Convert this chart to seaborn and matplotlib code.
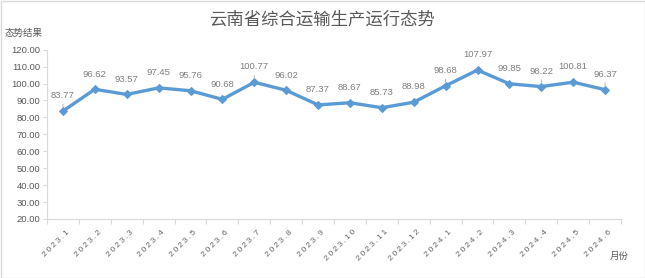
import matplotlib
matplotlib.use("Agg")
import matplotlib.pyplot as plt
import matplotlib.transforms as mtrans
import seaborn as sns
import pandas as pd
import numpy as np
from matplotlib.patches import Rectangle

months = ["2023.1", "2023.2", "2023.3", "2023.4", "2023.5", "2023.6", "2023.7", "2023.8",
          "2023.9", "2023.10", "2023.11", "2023.12", "2024.1", "2024.2", "2024.3", "2024.4",
          "2024.5", "2024.6"]
values = [83.77, 96.62, 93.57, 97.45, 95.76, 90.68, 100.77, 96.02, 87.37, 88.67, 85.73,
          88.98, 98.68, 107.97, 99.85, 98.22, 100.81, 96.37]
leader_idx = [0, 6, 12, 15, 17]
yticks = [20, 30, 40, 50, 60, 70, 80, 90, 100, 110, 120]

title = "云南省综合运输生产运行态势"
ylabel = "态势结果"
xlabel = "月份"

sns.set_style("white")
plt.rcParams['font.family'] = ['Noto Sans CJK SC', 'DejaVu Sans']

df = pd.DataFrame({"month": months, "value": values})

fig = plt.figure(figsize=(6.45, 2.78), dpi=100)
ax = fig.add_axes([47/645, 1-219/278, (621-47)/645, (219-49.7)/278])

sns.lineplot(data=df, x="month", y="value", ax=ax, color="#5B9BD5", linewidth=2.4,
             marker="D", markersize=4.5, markeredgecolor="#5B9BD5", sort=False)

ax.set_xlim(-0.5, len(months) - 0.5)
ax.set_ylim(20, 120)

txtc = "#595959"
num_font = ["Liberation Sans", "DejaVu Sans"]

# x ticks: marks at boundaries, labels at centers
ax.set_xticks(np.arange(-0.5, len(months), 1.0))
ax.set_xticklabels([])
ax.set_xticks(np.arange(len(months)), minor=True)
spaced = ["\u2009".join(m) for m in months]
ax.set_xticklabels(spaced, minor=True, rotation=45, ha="right", va="top",
                   rotation_mode="anchor", fontsize=6.1, color="#666666", family=num_font)
ax.tick_params(axis="x", which="major", length=3.5, width=0.8, color="#D9D9D9", direction="out", bottom=True)
ax.tick_params(axis="x", which="minor", length=0, pad=7, bottom=True)
shift = mtrans.ScaledTranslation(3/100, 0, fig.dpi_scale_trans)
for lab in ax.get_xticklabels(minor=True):
    lab.set_transform(lab.get_transform() + shift)

ax.set_yticks(yticks)
ax.set_yticklabels([f"{v:.2f}" for v in yticks], fontsize=6.8, color=txtc, family=num_font)
ax.tick_params(axis="y", length=3, width=0.8, color="#D9D9D9", direction="out", left=True, pad=2)

ax.set_xlabel("")
ax.set_ylabel("")
for s in ["top", "right"]:
    ax.spines[s].set_visible(False)
ax.spines["left"].set_color("#D9D9D9")
ax.spines["bottom"].set_color("#D9D9D9")
ax.spines["left"].set_linewidth(0.8)
ax.spines["bottom"].set_linewidth(0.8)
ax.grid(False)

for i, v in enumerate(values):
    if i in leader_idx:
        ax.annotate(f"{v:.2f}", xy=(i, v), xytext=(0, 11), textcoords="offset points",
                    ha="center", va="center", fontsize=6.8, color="#7F7F7F",
                    family=num_font,
                    arrowprops=dict(arrowstyle="-", color="#A6A6A6", lw=0.6, shrinkA=0.5, shrinkB=3))
    else:
        ax.annotate(f"{v:.2f}", xy=(i, v), xytext=(0, 11), textcoords="offset points",
                    ha="center", va="center", fontsize=6.8, color="#7F7F7F", family=num_font)

fig.text(321.5/645, 1-20/278, title, ha="center", va="center", fontsize=12.5, color=txtc)
fig.text(5/645, 1-33/278, ylabel, ha="left", va="center", fontsize=6.8, color=txtc)
fig.text(610/645, 1-256/278, xlabel, ha="left", va="center", fontsize=6.8, color=txtc)

fig.patches.append(Rectangle((0.5/645, 0.5/278), 1-1/645, 1-1/278, transform=fig.transFigure,
                             fill=False, edgecolor="#D9D9D9", linewidth=1.0))

fig.savefig("out.png", dpi=100)
